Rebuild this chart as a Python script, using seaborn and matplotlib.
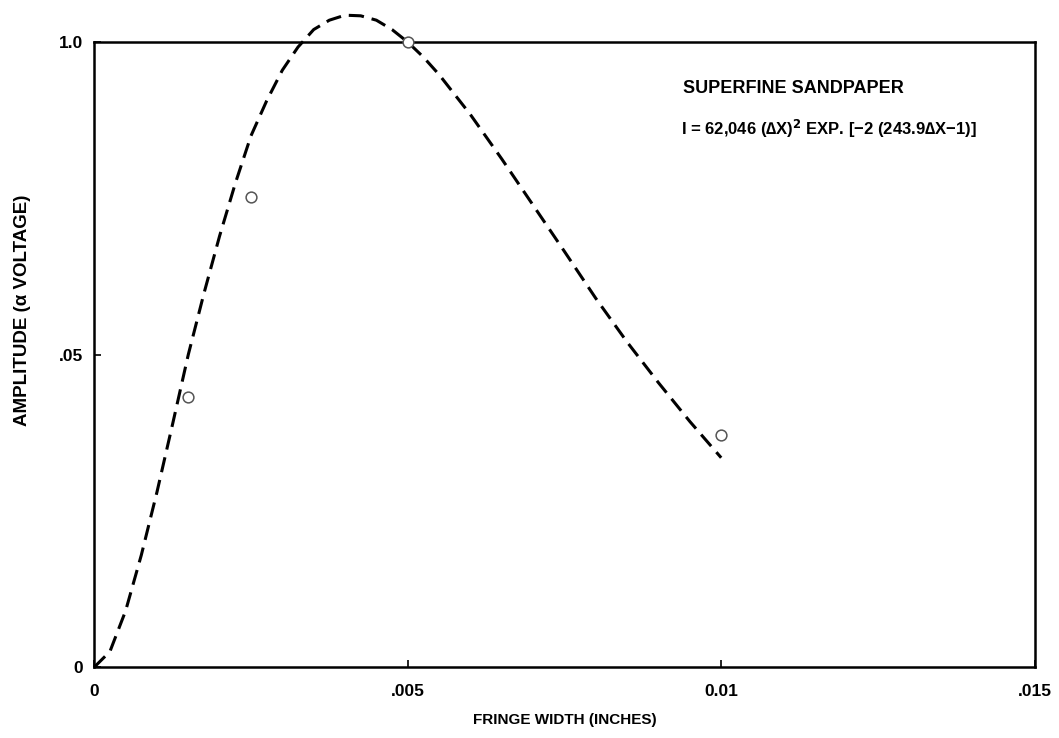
import matplotlib
matplotlib.use("Agg")
import matplotlib.pyplot as plt
import seaborn as sns
import pandas as pd

# Fitted curve
curve_x = [0.0, 0.00025, 0.0005, 0.00075, 0.001, 0.00125, 0.0015, 0.00175,
           0.002, 0.00225, 0.0025, 0.00275, 0.003, 0.00325, 0.0035, 0.00375,
           0.004, 0.00425, 0.0045, 0.00475, 0.005, 0.00525, 0.0055, 0.006,
           0.0065, 0.007, 0.0075, 0.008, 0.0085, 0.009, 0.0095, 0.01]
curve_y = [0.0, 0.025, 0.09, 0.179, 0.28, 0.389, 0.50, 0.598,
           0.69, 0.774, 0.85, 0.906, 0.955, 0.992, 1.02, 1.035,
           1.043, 1.042, 1.035, 1.02, 1.0, 0.976, 0.948, 0.884,
           0.813, 0.739, 0.665, 0.59, 0.52, 0.455, 0.393, 0.335]

# Measured points (open circles)
point_x = [0.0015, 0.0025, 0.005, 0.01]
point_y = [0.432, 0.752, 1.0, 0.371]

x_ticks = [0.0, 0.005, 0.01, 0.015]
x_tick_labels = ["0", ".005", "0.01", ".015"]
y_ticks = [0.0, 0.5, 1.0]
y_tick_labels = ["0", ".05", "1.0"]

sns.set_theme(style="white")
plt.rcParams["font.family"] = ["Liberation Sans", "DejaVu Sans"]
plt.rcParams["mathtext.default"] = "regular"
plt.rcParams["text.color"] = "black"
plt.rcParams["axes.labelcolor"] = "black"

fig = plt.figure(figsize=(10.59, 7.38), dpi=100)
ax = fig.add_axes([0.089, 0.096, 0.888, 0.847])

curve = pd.DataFrame({"x": curve_x, "y": curve_y})
pts = pd.DataFrame({"x": point_x, "y": point_y})

sns.lineplot(data=curve, x="x", y="y", ax=ax, color="black", linewidth=2.2,
             sort=False, zorder=2)
ln = ax.lines[0]
ln.set_dashes([5, 2.6])
ln.set_clip_on(False)
sns.scatterplot(data=pts, x="x", y="y", ax=ax, marker="o", s=60,
                facecolor="white", edgecolor="#555555", linewidth=1.1,
                zorder=4, clip_on=False)

ax.set_xlim(0, 0.015)
ax.set_ylim(0, 1.0)
ax.set_xticks(x_ticks)
ax.set_xticklabels(x_tick_labels)
ax.set_yticks(y_ticks)
ax.set_yticklabels(y_tick_labels)
for lbl in ax.get_xticklabels() + ax.get_yticklabels():
    lbl.set_fontweight("bold")
    lbl.set_fontsize(12.5)
ax.tick_params(axis="both", direction="in", length=5, width=1.2,
               colors="black")
ax.tick_params(axis="x", bottom=True, top=False, pad=12)
ax.tick_params(axis="y", left=True, right=False, pad=8)

for sp in ax.spines.values():
    sp.set_visible(True)
    sp.set_color("black")
    sp.set_linewidth(1.8)

ax.set_xlabel("FRINGE WIDTH (INCHES)", fontsize=11, fontweight="bold",
              labelpad=10, color="black")
ax.set_ylabel("AMPLITUDE (\u03b1 VOLTAGE)", fontsize=13.5, fontweight="bold",
              color="black")
ax.yaxis.set_label_coords(-0.067, 0.571)

ax.text(0.743, 0.926, "SUPERFINE SANDPAPER", transform=ax.transAxes,
        ha="center", va="center", fontsize=13, fontweight="bold",
        color="black")
ax.text(0.781, 0.862,
        "I = 62,046 (\u2206X)$^{\\mathbf{2}}$ EXP. [\u22122 (243.9\u2206X\u22121)]",
        transform=ax.transAxes, ha="center", va="center", fontsize=12,
        fontweight="bold", color="black")

fig.savefig("out.png", dpi=100, facecolor="white")
